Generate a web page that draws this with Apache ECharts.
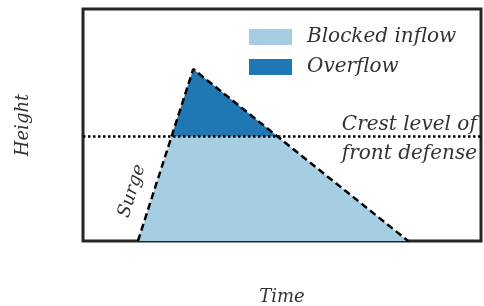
<!DOCTYPE html>
<html><head><meta charset="utf-8">
<script src="https://cdn.jsdelivr.net/npm/echarts@6/dist/echarts.min.js"></script>
<style>html,body{margin:0;padding:0;background:#fff}#c{width:484px;height:306px}</style>
</head><body><div id="c"></div>
<script>
const seriesNames = ['Blocked inflow', 'Overflow'];
const surgeX = [1.38, 2.77, 8.17];
const surgeY = [0, 7.41, 0];
const crestLevel = 4.5;
const crestX = [0, 10];
const blockedX = [1.38, 2.22, 4.89, 8.17];
const blockedY = [0, 4.5, 4.5, 0];
const overflowX = [2.22, 2.77, 4.89];
const overflowY = [4.5, 7.41, 4.5];
const xName = 'Time', yName = 'Height';
const crestText = ['Crest level of', 'front defense'];
const surgeText = 'Surge';

const serif = "'DejaVu Serif', 'Liberation Serif', serif";
const txt = '#333';
const zip = (a, b) => a.map((v, i) => [v, b[i]]);
function polySeries(name, xs, ys, color, z) {
  return {
    name: name, type: 'custom', z: z,
    itemStyle: { color: color },
    data: [0],
    renderItem: function (params, api) {
      const pts = xs.map((x, i) => api.coord([x, ys[i]]));
      return { type: 'polygon', shape: { points: pts }, style: { fill: color, stroke: null } };
    }
  };
}
const chart = echarts.init(document.getElementById('c'));
chart.setOption({
  animation: false,
  grid: { left: 83, right: 3, top: 9, bottom: 65, show: true, borderColor: '#262626', borderWidth: 3, backgroundColor: 'transparent', containLabel: false, outerBoundsMode: 'none' },
  xAxis: { type: 'value', min: 0, max: 10, axisLine: { show: false }, axisTick: { show: false }, axisLabel: { show: false }, splitLine: { show: false },
    name: xName, nameLocation: 'middle', nameGap: 47,
    nameTextStyle: { fontFamily: serif, fontStyle: 'italic', fontSize: 18, color: txt } },
  yAxis: { type: 'value', min: 0, max: 10, axisLine: { show: false }, axisTick: { show: false }, axisLabel: { show: false }, splitLine: { show: false },
    name: yName, nameLocation: 'middle', nameGap: 51, nameRotate: 90,
    nameTextStyle: { fontFamily: serif, fontStyle: 'italic', fontSize: 18, color: txt } },
  legend: {
    data: seriesNames, orient: 'vertical', left: 249, top: 27, padding: 0, itemWidth: 43, itemHeight: 16, itemGap: 10,
    icon: 'rect',
    textStyle: { fontFamily: serif, fontStyle: 'italic', fontSize: 20, color: txt, padding: [0, 0, 0, 10] }
  },
  graphic: [
    { type: 'text', right: 7, top: 110, style: { text: crestText.join('\n'), fontFamily: serif, fontStyle: 'italic', fontSize: 20, lineHeight: 29, fill: txt, align: 'right' } },
    { type: 'text', x: 132, y: 191, rotation: 72.6 * Math.PI / 180, style: { text: surgeText, fontFamily: serif, fontStyle: 'italic', fontSize: 18, fill: txt, align: 'center', verticalAlign: 'middle' } }
  ],
  series: [
    polySeries(seriesNames[0], blockedX, blockedY, '#a6cee3', 1),
    polySeries(seriesNames[1], overflowX, overflowY, '#1f78b4', 2),
    { type: 'line', z: 3, data: zip(surgeX, surgeY), symbol: 'none', lineStyle: { color: '#000', width: 2.5, type: [7, 4] } },
    { type: 'line', z: 4, data: crestX.map(x => [x, crestLevel]), symbol: 'none', lineStyle: { color: '#000', width: 2.5, type: [2.5, 2.5] } }
  ]
});
</script></body></html>
